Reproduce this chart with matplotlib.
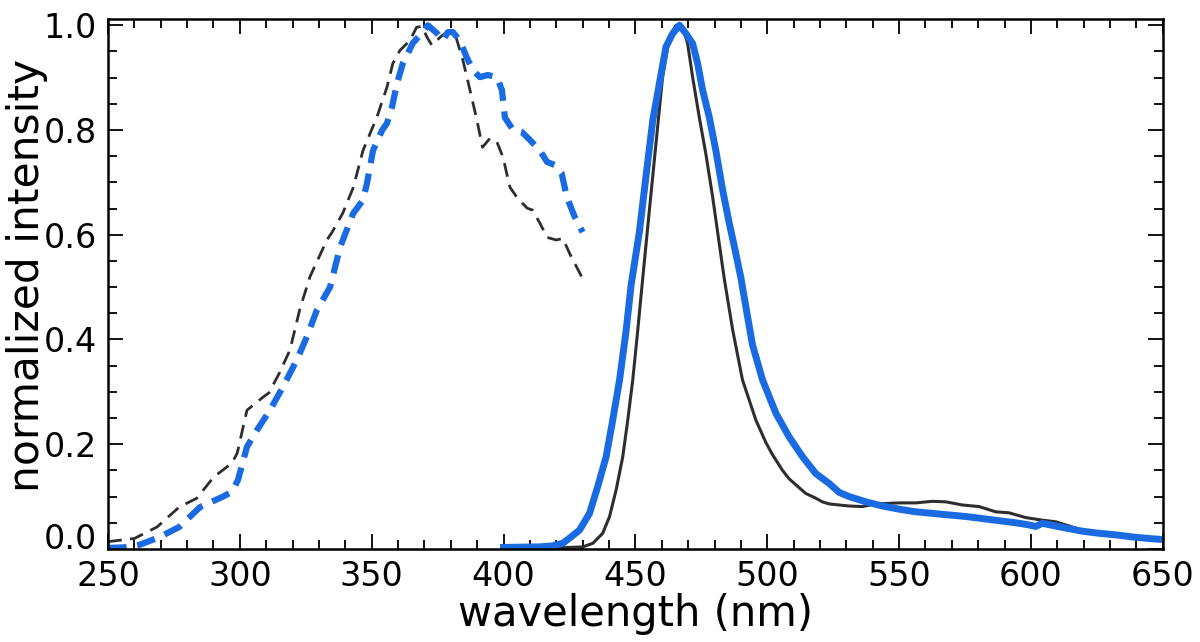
import matplotlib
matplotlib.use("Agg")
import matplotlib.pyplot as plt
import matplotlib.transforms as mtransforms
from matplotlib.ticker import MultipleLocator, FormatStrFormatter

# excitation spectra (dashed)
exc_black_nm = [250, 260, 268.6, 277, 283.7, 290, 297, 299, 302.7, 308.8, 311, 315, 319, 322.8,
                326.6, 333, 335, 339, 343, 346.7, 352, 355.8, 358, 360.7, 364.5, 367, 369, 371,
                372.8, 375.9, 378.5, 382, 384.6, 387, 389.9, 392, 394.8, 397.5, 399.8, 402.4,
                405, 408.9, 411, 413.8, 416.5, 420, 422.5, 425, 429.7]
exc_black = [0.014, 0.02, 0.042, 0.08, 0.097, 0.137, 0.164, 0.183, 0.265, 0.29, 0.298, 0.336, 0.38, 0.459,
             0.52, 0.59, 0.605, 0.641, 0.69, 0.761, 0.825, 0.882, 0.927, 0.952, 0.971, 0.996, 0.998, 0.977,
             0.962, 0.977, 0.987, 0.977, 0.933, 0.882, 0.819, 0.767, 0.784, 0.777, 0.748, 0.691,
             0.672, 0.651, 0.647, 0.622, 0.595, 0.59, 0.593, 0.565, 0.519]

exc_blue_nm = [250, 256, 262, 269.7, 277, 284.9, 293.6, 297, 299.3, 302.7, 306.5, 311.4, 316.3, 321.6,
               325.4, 329.2, 334.2, 338, 343, 346.7, 348.2, 350.5, 354, 355.8, 357.7, 359.6, 361.8,
               365.6, 368.3, 371.3, 374.7, 377, 378.9, 380.8, 383.4, 386, 388.4, 391, 394, 397.5,
               399.4, 400.5, 403.6, 407, 410, 413.8, 416.5, 419.5, 422, 424, 427, 430]
exc_blue = [0.002, 0.003, 0.008, 0.023, 0.042, 0.08, 0.1, 0.109, 0.132, 0.195, 0.227, 0.265, 0.309, 0.361,
            0.405, 0.456, 0.5, 0.576, 0.641, 0.666, 0.698, 0.761, 0.8, 0.813, 0.844, 0.889, 0.927,
            0.966, 0.981, 1.0, 0.985, 0.971, 0.987, 0.987, 0.971, 0.939, 0.914, 0.901, 0.905, 0.901,
            0.876, 0.824, 0.8, 0.796, 0.781, 0.761, 0.739, 0.733, 0.718, 0.672, 0.634, 0.605]

# emission spectra (solid)
em_black_nm = [420, 430.1, 433.9, 437.6, 440.2, 442.7, 445.2, 447.1, 449.0, 450.9, 452.8, 455.3, 457.8,
               460.3, 462.9, 465.4, 467.9, 469.8, 471.7, 474.2, 476.7, 479.3, 481.8, 483.7, 486.9,
               490.6, 495.7, 499.5, 502.0, 505.8, 508.3, 512.1, 514.6, 518.4, 520.9, 523.5, 527.3,
               531.1, 536.1, 541.1, 550, 556.3, 562.6, 567.7, 574, 580.3, 586.6, 591.7, 598,
               604.3, 609.3, 614.4, 619.4, 625.8, 632.1, 638.4, 644.7, 650]
em_black = [0.002, 0.004, 0.011, 0.03, 0.062, 0.113, 0.176, 0.246, 0.323, 0.418, 0.518, 0.647, 0.774,
            0.901, 0.978, 1.0, 0.997, 0.965, 0.901, 0.825, 0.755, 0.672, 0.583, 0.516, 0.418,
            0.323, 0.246, 0.203, 0.18, 0.15, 0.134, 0.117, 0.106, 0.097, 0.09, 0.086, 0.084,
            0.082, 0.081, 0.086, 0.088, 0.088, 0.091, 0.09, 0.084, 0.081, 0.071, 0.069, 0.06,
            0.055, 0.052, 0.044, 0.036, 0.03, 0.027, 0.023, 0.02, 0.018]

em_blue_nm = [400, 413.6, 418.7, 422.5, 425.6, 428.8, 432.6, 435.7, 438.9, 441.4, 444.0, 446.5, 448.4,
              451.5, 454.0, 456.6, 459.1, 461.6, 464.1, 466.7, 469.2, 471.7, 473.6, 475.5, 478.0,
              480.5, 483.1, 485.6, 488.1, 490.0, 491.9, 494.4, 498.2, 503.3, 508.3, 513.4, 518.4,
              523.5, 527.3, 531.1, 537.4, 543.7, 550, 556.3, 562.6, 568.9, 575.3, 581.6, 587.9,
              594.2, 599.2, 601.8, 604.3, 613.1, 619.4, 625.8, 632.1, 638.4, 644.7, 650]
em_blue = [0.003, 0.004, 0.006, 0.011, 0.023, 0.036, 0.068, 0.119, 0.176, 0.246, 0.323, 0.418, 0.505,
           0.605, 0.711, 0.819, 0.889, 0.959, 0.984, 1.0, 0.984, 0.965, 0.927, 0.876, 0.825,
           0.761, 0.685, 0.622, 0.564, 0.518, 0.462, 0.39, 0.323, 0.259, 0.214, 0.176, 0.144,
           0.125, 0.108, 0.1, 0.09, 0.082, 0.076, 0.071, 0.068, 0.065, 0.062, 0.058, 0.054,
           0.05, 0.046, 0.043, 0.049, 0.04, 0.034, 0.03, 0.027, 0.023, 0.02, 0.018]

blue = "#1a6be2"
dark = "#2e2e2e"

fig = plt.figure(figsize=(12, 6.42), dpi=100)
ax = fig.add_axes([0.09, 0.1449, 0.879, 0.8255])

ax.plot(exc_black_nm, exc_black, color=dark, lw=2.0, dashes=(5, 3))
ax.plot(exc_blue_nm, exc_blue, color=blue, lw=4.5, dashes=(3, 1.7))
ax.plot(em_black_nm, em_black, color=dark, lw=2.2)
ax.plot(em_blue_nm, em_blue, color=blue, lw=5)

ax.set_xlim(250, 650)
ax.set_ylim(0, 1.012)
ax.xaxis.set_major_locator(MultipleLocator(50))
ax.xaxis.set_minor_locator(MultipleLocator(10))
ax.yaxis.set_major_locator(MultipleLocator(0.2))
ax.yaxis.set_minor_locator(MultipleLocator(0.05))
ax.yaxis.set_major_formatter(FormatStrFormatter("%.1f"))

ax.tick_params(which="both", direction="in", top=True, right=True, width=1.3, labelsize=24)
ax.tick_params(which="major", length=11)
ax.tick_params(which="minor", length=6.5)
ax.tick_params(axis="x", pad=8)
ax.tick_params(axis="y", pad=8)
for s in ax.spines.values():
    s.set_linewidth(1.8)

ax.set_xlabel("wavelength (nm)", fontsize=30)
ax.set_ylabel("normalized intensity", fontsize=30.5)
ax.xaxis.set_label_coords(0.5, -0.083)
ax.yaxis.set_label_coords(-0.057, 0.517)

# lift the "0.0" label a little so it clears the "250" below it
fig.canvas.draw()
for lbl in ax.get_yticklabels():
    if lbl.get_text() == "0.0":
        lbl.set_transform(lbl.get_transform() + mtransforms.ScaledTranslation(0, 9 / 72, fig.dpi_scale_trans))

fig.savefig("out.png", dpi=100)
